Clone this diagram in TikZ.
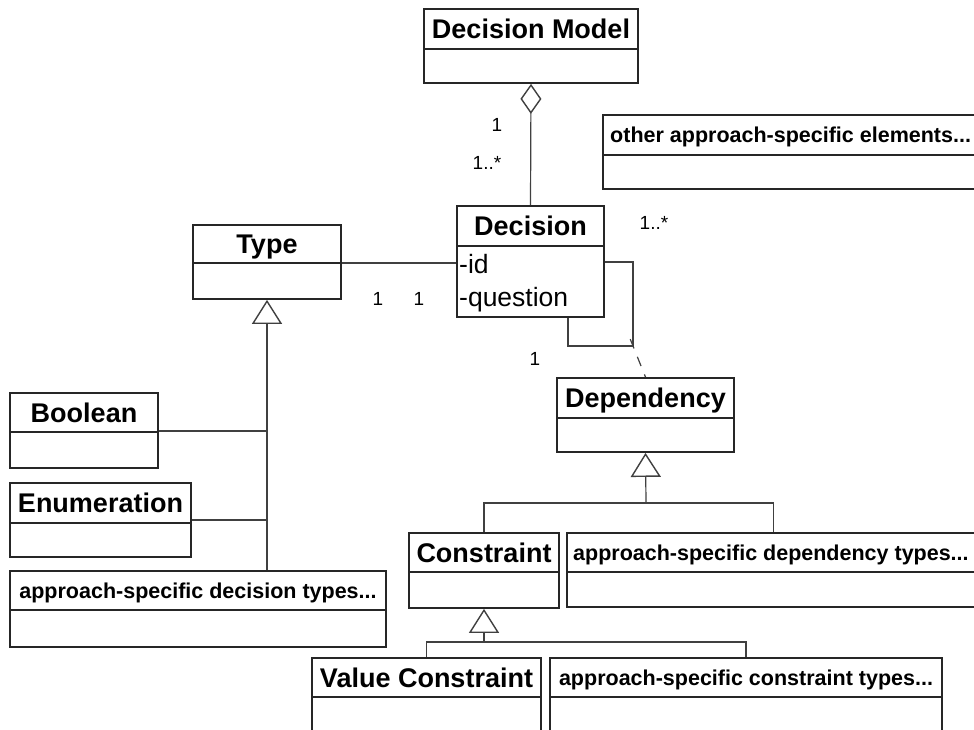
\documentclass[tikz,border=0pt]{standalone}
\usepackage{fontspec}
\setmainfont{Liberation Sans}
\usetikzlibrary{arrows.meta,fit,calc}

% one UML class: name, left, top, right, divider, bottom, title, title style
\newcommand\umlclass[8]{%
  \node[clsbox, fit={(#2,#3) (#4,#6)}] (#1) {};
  \draw[clsline] (#2,#5) -- (#4,#5);
  \node[#8] (#1-title) at ({(#2+#4)/2},{(#3+#5)/2}) {#7};
}

\begin{document}
\begin{tikzpicture}[x=1pt,y=-1pt,
  clsbox/.style={draw=black!85, line width=1.8pt, inner sep=0pt},
  clsline/.style={draw=black!85, line width=1.8pt},
  bigtitle/.style={font=\fontsize{27}{30}\selectfont\bfseries, inner sep=0pt, text height=19pt, text depth=0pt},
  smalltitle/.style={font=\fontsize{21.5}{25}\selectfont\bfseries, inner sep=0pt, text height=15pt, text depth=0pt},
  attr/.style={font=\fontsize{26.5}{30}\selectfont, inner sep=0pt, anchor=base west},
  mult/.style={font=\fontsize{19}{22}\selectfont, inner sep=0pt, text height=13.5pt, text depth=0pt},
  conn/.style={draw=black!75, line width=1.2pt},
  gen/.style={conn, -{Triangle[open, length=24pt, width=30pt, line width=1.4pt]}},
  agg/.style={conn, -{Diamond[open, length=30pt, width=21pt, line width=1.4pt]}},
  assoc/.style={conn, dash pattern=on 10pt off 9pt}]

\useasboundingbox[fill=white] (0,0) rectangle (974,730);

% classes
\umlclass{dm}{424}{9}{638}{49}{83}{Decision Model}{bigtitle}
\umlclass{dec}{457}{206}{604}{246}{317}{Decision}{bigtitle}
\umlclass{type}{193}{225}{341}{263}{299}{Type}{bigtitle}
\umlclass{bool}{10}{393}{158}{432}{468}{Boolean}{bigtitle}
\umlclass{enum}{10}{483}{191}{523}{557}{Enumeration}{bigtitle}
\umlclass{apdt}{10}{571}{386}{610}{647}{approach-specific decision types...}{smalltitle}
\umlclass{dep}{557}{378}{734}{418}{452}{Dependency}{bigtitle}
\umlclass{cons}{409}{533}{559}{572}{608}{Constraint}{bigtitle}
\umlclass{vc}{312}{658}{541}{697}{770}{Value Constraint}{bigtitle}
\umlclass{acs}{550}{658}{942}{697}{770}{approach-specific constraint types...}{smalltitle}

% classes running past the right edge, titles set from the left
\node[clsbox, fit={(603,115) (1010,189)}] (other) {};
\draw[clsline] (603,155) -- (1010,155);
\node[smalltitle, anchor=west] (other-title) at (610,135) {other approach-specific elements...};

\node[clsbox, fit={(567,533) (1010,607)}] (ads) {};
\draw[clsline] (567,572) -- (1010,572);
\node[smalltitle, anchor=west] (ads-title) at (573,552.5) {approach-specific dependency types...};

% attributes of Decision
\node[attr] (dec-id) at (459,273) {-id};
\node[attr] (dec-q) at (459,306) {-question};

% aggregation Decision Model <>-- Decision
\draw[agg] (dec.north) -- (dm.south);
\node[mult] (m1) at (497,125) {1};
\node[mult] (m2) at (487,163) {1..*};

% association Type -- Decision
\draw[conn] (type.east |- 0,263) -- (dec.west |- 0,263);
\node[mult] (m3) at (378,299) {1};
\node[mult] (m4) at (419,299) {1};

% reflexive association on Decision with Dependency as association class
\coordinate (loop) at (633,346);
\draw[conn] (dec.east |- 0,262) -| (loop) -| (dec.south -| 568,0);
\draw[assoc] ($(loop)!-0.22!(dep.north)$) -- (dep.north);
\node[mult] (m5) at (654,223) {1..*};
\node[mult] (m6) at (535,359) {1};

% generalisation of Type
\draw[gen] (type.south |- apdt.north) -- (type.south);
\draw[conn] (bool.east |- 0,431) -- (type.south |- 0,431);
\draw[conn] (enum.east |- 0,520) -- (type.south |- 0,520);

% generalisation of Dependency
\coordinate (dj) at (646,503);
\draw[conn] (cons.north) |- (dj) -| ([xshift=207pt]ads.north west);
\draw[gen] (dj) -- (dep.south);

% generalisation of Constraint
\coordinate (cj) at (484,642);
\draw[conn] (vc.north) |- (cj) -| (acs.north);
\draw[gen] (cj) -- (cons.south);

\end{tikzpicture}
\end{document}
